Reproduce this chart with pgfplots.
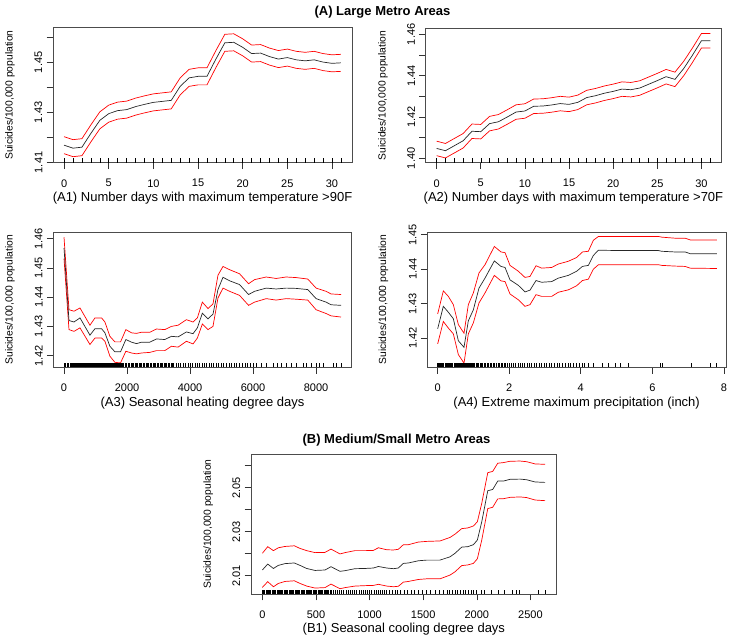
\documentclass[border=0pt]{standalone}
\usepackage{fontspec}
\setmainfont{Liberation Sans}
\usepackage{pgfplots}
\usepackage{pgfplotstable}
\pgfplotsset{compat=1.18}
\pgfdeclareplotmark{rug}{\pgfpathmoveto{\pgfpointorigin}\pgfpathlineto{\pgfpoint{0pt}{4.3pt}}\pgfusepathqstroke}

\pgfplotstableread{
x m lo hi
0 1.4169 1.4135 1.4203
1 1.4157 1.4123 1.4191
2 1.4161 1.4127 1.4195
3 1.4216 1.4182 1.4250
4 1.4268 1.4234 1.4302
5 1.4295 1.4261 1.4329
6 1.4307 1.4273 1.4341
7 1.4311 1.4277 1.4345
8 1.4323 1.4289 1.4357
9 1.4332 1.4298 1.4366
10 1.4340 1.4306 1.4374
11 1.4344 1.4310 1.4378
12 1.4348 1.4314 1.4382
13 1.4404 1.4370 1.4438
14 1.4438 1.4404 1.4472
15 1.4444 1.4410 1.4478
16 1.4444 1.4410 1.4478
17 1.4513 1.4479 1.4547
18 1.4578 1.4544 1.4612
19 1.4580 1.4546 1.4614
20 1.4560 1.4526 1.4594
21 1.4535 1.4501 1.4569
22 1.4537 1.4503 1.4571
23 1.4523 1.4489 1.4557
24 1.4513 1.4479 1.4547
25 1.4519 1.4485 1.4553
26 1.4510 1.4476 1.4544
27 1.4506 1.4472 1.4540
28 1.4510 1.4476 1.4544
29 1.4501 1.4467 1.4535
30 1.4496 1.4462 1.4530
31 1.4498 1.4464 1.4532
}\Aone

\pgfplotstableread{
x m lo hi
0 1.4048 1.4013 1.4083
1 1.4037 1.4002 1.4072
2 1.4061 1.4026 1.4096
3 1.4085 1.4050 1.4120
4 1.4131 1.4096 1.4166
5 1.4129 1.4094 1.4164
6 1.4168 1.4133 1.4203
7 1.4177 1.4142 1.4212
8 1.4200 1.4165 1.4235
9 1.4224 1.4189 1.4259
10 1.4229 1.4194 1.4264
11 1.4252 1.4217 1.4287
12 1.4253 1.4218 1.4288
13 1.4258 1.4223 1.4293
14 1.4265 1.4230 1.4300
15 1.4261 1.4226 1.4296
16 1.4271 1.4236 1.4306
17 1.4294 1.4259 1.4329
18 1.4303 1.4268 1.4338
19 1.4315 1.4280 1.4350
20 1.4324 1.4289 1.4359
21 1.4335 1.4300 1.4370
22 1.4332 1.4297 1.4367
23 1.4340 1.4305 1.4375
24 1.4358 1.4323 1.4393
25 1.4376 1.4341 1.4411
26 1.4395 1.4360 1.4430
27 1.4382 1.4347 1.4417
28 1.4435 1.4400 1.4470
29 1.4500 1.4465 1.4535
30 1.4569 1.4534 1.4604
31 1.4569 1.4534 1.4604
}\Atwo

\pgfplotstableread{
x m lo hi
0 1.4568 1.4532 1.4605
158 1.4320 1.4289 1.4357
317 1.4315 1.4283 1.4352
507 1.4329 1.4295 1.4363
823 1.4270 1.4238 1.4304
982 1.4292 1.4260 1.4329
1193 1.4292 1.4260 1.4329
1298 1.4278 1.4249 1.4315
1456 1.4232 1.4198 1.4266
1615 1.4213 1.4177 1.4247
1794 1.4213 1.4175 1.4247
1963 1.4255 1.4215 1.4289
2142 1.4246 1.4209 1.4278
2301 1.4241 1.4206 1.4276
2459 1.4246 1.4209 1.4280
2723 1.4246 1.4211 1.4280
2934 1.4257 1.4217 1.4291
3198 1.4255 1.4217 1.4289
3409 1.4266 1.4232 1.4300
3620 1.4264 1.4229 1.4304
3884 1.4281 1.4249 1.4323
4095 1.4275 1.4240 1.4315
4232 1.4295 1.4260 1.4329
4390 1.4345 1.4308 1.4383
4570 1.4326 1.4289 1.4361
4728 1.4342 1.4300 1.4377
4886 1.4426 1.4397 1.4475
5045 1.4468 1.4431 1.4505
5256 1.4456 1.4420 1.4494
5572 1.4443 1.4406 1.4480
5857 1.4409 1.4372 1.4446
6047 1.4420 1.4383 1.4460
6417 1.4431 1.4395 1.4469
6733 1.4428 1.4390 1.4464
7050 1.4431 1.4395 1.4469
7367 1.4430 1.4393 1.4467
7736 1.4426 1.4390 1.4462
8000 1.4395 1.4357 1.4431
8317 1.4383 1.4344 1.4420
8475 1.4374 1.4336 1.4411
8791 1.4372 1.4332 1.4409
}\Athree

\pgfplotstableread{
x m lo hi
0 1.4227 1.4183 1.4270
0.158 1.4292 1.4248 1.4337
0.298 1.4275 1.4229 1.4321
0.438 1.4256 1.4212 1.4297
0.578 1.4192 1.4152 1.4239
0.736 1.4173 1.4127 1.4214
0.857 1.4250 1.4212 1.4297
0.997 1.4282 1.4244 1.4331
1.155 1.4345 1.4302 1.4389
1.323 1.4374 1.4331 1.4413
1.584 1.4424 1.4382 1.4466
1.770 1.4408 1.4366 1.4450
1.882 1.4405 1.4364 1.4448
2.022 1.4369 1.4328 1.4411
2.255 1.4353 1.4311 1.4394
2.441 1.4334 1.4292 1.4376
2.581 1.4339 1.4297 1.4379
2.749 1.4367 1.4326 1.4410
2.907 1.4362 1.4321 1.4403
3.187 1.4364 1.4321 1.4405
3.373 1.4374 1.4333 1.4415
3.653 1.4382 1.4340 1.4423
3.886 1.4394 1.4352 1.4434
4.045 1.4408 1.4367 1.4450
4.212 1.4411 1.4371 1.4452
4.352 1.4440 1.4400 1.4484
4.494 1.4455 1.4413 1.4495
5.240 1.4454 1.4413 1.4495
6.172 1.4454 1.4413 1.4495
6.265 1.4452 1.4411 1.4493
6.638 1.4450 1.4409 1.4490
6.918 1.4450 1.4408 1.4490
7.058 1.4445 1.4403 1.4485
7.804 1.4445 1.4402 1.4485
}\Afour

\pgfplotstableread{
x m lo hi
0 2.0126 2.0047 2.0202
50 2.0153 2.0073 2.0232
103 2.0133 2.0050 2.0214
149 2.0147 2.0065 2.0227
211 2.0155 2.0074 2.0233
298 2.0158 2.0077 2.0236
351 2.0147 2.0065 2.0224
413 2.0133 2.0053 2.0214
491 2.0124 2.0044 2.0205
584 2.0126 2.0046 2.0206
640 2.0141 2.0062 2.0221
724 2.0120 2.0041 2.0199
771 2.0123 2.0046 2.0205
864 2.0132 2.0053 2.0214
958 2.0133 2.0055 2.0214
1035 2.0135 2.0056 2.0215
1082 2.0142 2.0061 2.0227
1160 2.0135 2.0053 2.0218
1222 2.0132 2.0050 2.0217
1268 2.0135 2.0052 2.0220
1315 2.0156 2.0071 2.0241
1362 2.0158 2.0074 2.0241
1455 2.0168 2.0083 2.0253
1533 2.0171 2.0086 2.0256
1657 2.0171 2.0086 2.0258
1750 2.0186 2.0103 2.0274
1797 2.0202 2.0118 2.0289
1859 2.0230 2.0146 2.0314
1915 2.0232 2.0149 2.0317
1968 2.0241 2.0156 2.0326
2005 2.0262 2.0177 2.0345
2046 2.0345 2.0262 2.0429
2102 2.0486 2.0405 2.0568
2148 2.0492 2.0411 2.0574
2195 2.0530 2.0449 2.0611
2248 2.0530 2.0450 2.0614
2310 2.0538 2.0456 2.0620
2403 2.0539 2.0458 2.0621
2465 2.0536 2.0455 2.0618
2543 2.0526 2.0444 2.0608
2636 2.0524 2.0441 2.0606
}\Bone

\pgfplotsset{
  rplot/.style={
    scale only axis, anchor=south west, clip=true,
    axis line style={black!70, line width=0.6pt},
    tick style={black!80, line width=0.6pt},
    tick align=outside, tick pos=left,
    major tick length=6.5pt, minor tick num=0,
    /pgf/number format/assume math mode=true,
    ticklabel style={font=\fontsize{11}{13}\selectfont, inner sep=1pt},
    xticklabel shift=9pt,
    yticklabel style={rotate=90, anchor=south},
    yticklabel shift=3pt,
    xlabel style={font=\fontsize{13}{15}\selectfont, at={(axis description cs:0.5,0)}, anchor=center, yshift=-35.5pt},
    ylabel style={font=\fontsize{10.3}{12}\selectfont, anchor=center, rotate=0},
  },
  midline/.style={black!85, line width=0.7pt},
  bandline/.style={red, line width=0.7pt},
  rugs/.style={only marks, mark=rug, mark options={black, line width=0.55pt}},
}

\begin{document}
\begin{tikzpicture}
\path[use as bounding box] (0pt,0pt) rectangle (733pt,642pt);
\node[font=\bfseries\fontsize{13}{15}\selectfont] at (382.5pt,630pt) {(A) Large Metro Areas};
\node[font=\bfseries\fontsize{13}{15}\selectfont] at (396.5pt,202pt) {(B) Medium/Small Metro Areas};

% A1
\begin{axis}[rplot, at={(53pt,479.3pt)}, width=299pt, height=135.4pt,
  xmin=-1.24, xmax=32.24, ymin=1.4099, ymax=1.4640,
  xtick={0,5,10,15,20,25,30}, xticklabels={0,5,10,15,20,25,30},
  ytick={1.41,1.42,1.43,1.44,1.45,1.46}, yticklabels={1.41,,1.43,,1.45,},
  xlabel={(A1) Number days with maximum temperature >90F},
  ylabel={Suicides/100,000 population},
  ylabel style={at={(axis description cs:-0.144,0.5)}}]
\addplot[bandline] table[x=x,y=hi]{\Aone};
\addplot[bandline] table[x=x,y=lo]{\Aone};
\addplot[midline] table[x=x,y=m]{\Aone};
\addplot[rugs] coordinates {(0,1.4099)(1,1.4099)(2,1.4099)(3,1.4099)(4,1.4099)(5,1.4099)(6,1.4099)(7,1.4099)(8,1.4099)(9,1.4099)(10,1.4099)(11,1.4099)(12,1.4099)(13,1.4099)(14,1.4099)(15,1.4099)(16,1.4099)(17,1.4099)(18,1.4099)(19,1.4099)(20,1.4099)(21,1.4099)(22,1.4099)(23,1.4099)(24,1.4099)(25,1.4099)(26,1.4099)(27,1.4099)(28,1.4099)(29,1.4099)(30,1.4099)(31,1.4099)};
\end{axis}

% A2
\begin{axis}[rplot, at={(425.7pt,479.3pt)}, width=295.5pt, height=134.4pt,
  xmin=-1.24, xmax=32.24, ymin=1.3979, ymax=1.4629,
  xtick={0,5,10,15,20,25,30}, xticklabels={0,5,10,15,20,25,30},
  ytick={1.40,1.41,1.42,1.43,1.44,1.45,1.46}, yticklabels={1.40,,1.42,,1.44,,1.46},
  xlabel={(A2) Number days with maximum temperature >70F},
  ylabel={Suicides/100,000 population},
  ylabel style={at={(axis description cs:-0.1445,0.5)}}]
\addplot[bandline] table[x=x,y=hi]{\Atwo};
\addplot[bandline] table[x=x,y=lo]{\Atwo};
\addplot[midline] table[x=x,y=m]{\Atwo};
\addplot[rugs] coordinates {(0,1.3979)(1,1.3979)(2,1.3979)(3,1.3979)(4,1.3979)(5,1.3979)(6,1.3979)(7,1.3979)(8,1.3979)(9,1.3979)(10,1.3979)(11,1.3979)(12,1.3979)(13,1.3979)(14,1.3979)(15,1.3979)(16,1.3979)(17,1.3979)(18,1.3979)(19,1.3979)(20,1.3979)(21,1.3979)(22,1.3979)(23,1.3979)(24,1.3979)(25,1.3979)(26,1.3979)(27,1.3979)(28,1.3979)(29,1.3979)(30,1.3979)(31,1.3979)};
\end{axis}

% A3
\begin{axis}[rplot, at={(53.3pt,274.7pt)}, width=298.4pt, height=135.3pt,
  xmin=-340, xmax=9130, ymin=1.4160, ymax=1.4623,
  xtick={0,2000,4000,6000,8000}, xticklabels={0,2000,4000,6000,8000},
  ytick={1.42,1.43,1.44,1.45,1.46}, yticklabels={1.42,1.43,1.44,1.45,1.46},
  xlabel={(A3) Seasonal heating degree days},
  ylabel={Suicides/100,000 population},
  ylabel style={at={(axis description cs:-0.145,0.5)}}]
\addplot[bandline] table[x=x,y=hi]{\Athree};
\addplot[bandline] table[x=x,y=lo]{\Athree};
\addplot[midline] table[x=x,y=m]{\Athree};
\addplot[rugs] coordinates {(0,1.416)(30,1.416)(55,1.416)(90,1.416)(120,1.416)(150,1.416)(185,1.416)(210,1.416)(240,1.416)(275,1.416)(300,1.416)(330,1.416)(365,1.416)(390,1.416)(420,1.416)(455,1.416)(480,1.416)(510,1.416)(545,1.416)(570,1.416)(600,1.416)(635,1.416)(660,1.416)(690,1.416)(720,1.416)(750,1.416)(780,1.416)(810,1.416)(840,1.416)(870,1.416)(900,1.416)(935,1.416)(960,1.416)(990,1.416)(1020,1.416)(1050,1.416)(1080,1.416)(1110,1.416)(1140,1.416)(1175,1.416)(1200,1.416)(1230,1.416)(1260,1.416)(1290,1.416)(1320,1.416)(1350,1.416)(1385,1.416)(1410,1.416)(1440,1.416)(1470,1.416)(1500,1.416)(1530,1.416)(1565,1.416)(1590,1.416)(1620,1.416)(1650,1.416)(1680,1.416)(1715,1.416)(1740,1.416)(1770,1.416)(1800,1.416)(1830,1.416)(1860,1.416)(1890,1.416)(1940,1.416)(1985,1.416)(2030,1.416)(2070,1.416)(2120,1.416)(2160,1.416)(2200,1.416)(2250,1.416)(2290,1.416)(2330,1.416)(2380,1.416)(2420,1.416)(2460,1.416)(2510,1.416)(2550,1.416)(2600,1.416)(2640,1.416)(2680,1.416)(2730,1.416)(2770,1.416)(2820,1.416)(2860,1.416)(2900,1.416)(2950,1.416)(2990,1.416)(3040,1.416)(3080,1.416)(3120,1.416)(3170,1.416)(3210,1.416)(3260,1.416)(3300,1.416)(3350,1.416)(3390,1.416)(3440,1.416)(3480,1.416)(3560,1.416)(3640,1.416)(3700,1.416)(3790,1.416)(3850,1.416)(3930,1.416)(4010,1.416)(4080,1.416)(4150,1.416)(4230,1.416)(4300,1.416)(4380,1.416)(4440,1.416)(4520,1.416)(4600,1.416)(4670,1.416)(4750,1.416)(4830,1.416)(4900,1.416)(4990,1.416)(5060,1.416)(5150,1.416)(5230,1.416)(5310,1.416)(5400,1.416)(5480,1.416)(5570,1.416)(5660,1.416)(5740,1.416)(5830,1.416)(5920,1.416)(6010,1.416)(6115,1.416)(6274,1.416)(6433,1.416)(6644,1.416)(6771,1.416)(6909,1.416)(7067,1.416)(7226,1.416)(7385,1.416)(7596,1.416)(7702,1.416)(7861,1.416)(7999,1.416)(8104,1.416)(8231,1.416)(8549,1.416)(8654,1.416)(8813,1.416)};
\end{axis}

% A4
\begin{axis}[rplot, at={(427.3pt,274.7pt)}, width=298.7pt, height=135.3pt,
  xmin=-0.29, xmax=8.06, ymin=1.4115, ymax=1.4508,
  xtick={0,2,4,6,8}, xticklabels={0,2,4,6,8},
  ytick={1.42,1.43,1.44,1.45}, yticklabels={1.42,1.43,1.44,1.45},
  xlabel={(A4) Extreme maximum precipitation (inch)},
  ylabel={Suicides/100,000 population},
  ylabel style={at={(axis description cs:-0.147,0.5)}}]
\addplot[bandline] table[x=x,y=hi]{\Afour};
\addplot[bandline] table[x=x,y=lo]{\Afour};
\addplot[midline] table[x=x,y=m]{\Afour};
\addplot[rugs] coordinates {(0,1.4115)(0.02,1.4115)(0.05,1.4115)(0.07,1.4115)(0.1,1.4115)(0.12,1.4115)(0.15,1.4115)(0.17,1.4115)(0.2,1.4115)(0.22,1.4115)(0.25,1.4115)(0.27,1.4115)(0.3,1.4115)(0.32,1.4115)(0.35,1.4115)(0.37,1.4115)(0.4,1.4115)(0.42,1.4115)(0.45,1.4115)(0.47,1.4115)(0.5,1.4115)(0.52,1.4115)(0.55,1.4115)(0.57,1.4115)(0.6,1.4115)(0.62,1.4115)(0.65,1.4115)(0.67,1.4115)(0.7,1.4115)(0.72,1.4115)(0.75,1.4115)(0.77,1.4115)(0.8,1.4115)(0.82,1.4115)(0.85,1.4115)(0.87,1.4115)(0.9,1.4115)(0.93,1.4115)(0.96,1.4115)(0.99,1.4115)(1.03,1.4115)(1.07,1.4115)(1.11,1.4115)(1.14,1.4115)(1.18,1.4115)(1.22,1.4115)(1.26,1.4115)(1.30,1.4115)(1.34,1.4115)(1.38,1.4115)(1.42,1.4115)(1.46,1.4115)(1.50,1.4115)(1.55,1.4115)(1.59,1.4115)(1.63,1.4115)(1.68,1.4115)(1.72,1.4115)(1.77,1.4115)(1.81,1.4115)(1.86,1.4115)(1.90,1.4115)(1.95,1.4115)(2.0,1.4115)(2.06,1.4115)(2.12,1.4115)(2.18,1.4115)(2.24,1.4115)(2.30,1.4115)(2.37,1.4115)(2.43,1.4115)(2.50,1.4115)(2.56,1.4115)(2.63,1.4115)(2.70,1.4115)(2.76,1.4115)(2.83,1.4115)(2.90,1.4115)(2.97,1.4115)(3.04,1.4115)(3.11,1.4115)(3.18,1.4115)(3.26,1.4115)(3.34,1.4115)(3.41,1.4115)(3.49,1.4115)(3.57,1.4115)(3.64,1.4115)(3.72,1.4115)(3.80,1.4115)(3.87,1.4115)(3.95,1.4115)(4.03,1.4115)(4.10,1.4115)(4.21,1.4115)(4.35,1.4115)(4.59,1.4115)(4.77,1.4115)(4.96,1.4115)(5.10,1.4115)(5.33,1.4115)(6.22,1.4115)(6.27,1.4115)(7.10,1.4115)(7.62,1.4115)(7.80,1.4115)};
\end{axis}

% B1
\begin{axis}[rplot, at={(251pt,48pt)}, width=305.7pt, height=140pt,
  xmin=-106, xmax=2745, ymin=2.0017, ymax=2.0653,
  xtick={0,500,1000,1500,2000,2500}, xticklabels={0,500,1000,1500,2000,2500},
  ytick={2.01,2.02,2.03,2.04,2.05,2.06}, yticklabels={2.01,,2.03,,2.05,},
  xlabel={(B1) Seasonal cooling degree days},
  ylabel={Suicides/100,000 population},
  ylabel style={at={(axis description cs:-0.14,0.5)}}]
\addplot[bandline] table[x=x,y=hi]{\Bone};
\addplot[bandline] table[x=x,y=lo]{\Bone};
\addplot[midline] table[x=x,y=m]{\Bone};
\addplot[rugs] coordinates {(0,2.0017)(10,2.0017)(22,2.0017)(33,2.0017)(45,2.0017)(55,2.0017)(68,2.0017)(78,2.0017)(90,2.0017)(100,2.0017)(112,2.0017)(123,2.0017)(135,2.0017)(145,2.0017)(157,2.0017)(168,2.0017)(180,2.0017)(190,2.0017)(202,2.0017)(213,2.0017)(225,2.0017)(235,2.0017)(247,2.0017)(258,2.0017)(270,2.0017)(280,2.0017)(292,2.0017)(303,2.0017)(315,2.0017)(325,2.0017)(337,2.0017)(348,2.0017)(360,2.0017)(370,2.0017)(382,2.0017)(393,2.0017)(405,2.0017)(415,2.0017)(427,2.0017)(438,2.0017)(450,2.0017)(460,2.0017)(472,2.0017)(483,2.0017)(495,2.0017)(505,2.0017)(517,2.0017)(528,2.0017)(540,2.0017)(550,2.0017)(562,2.0017)(573,2.0017)(585,2.0017)(595,2.0017)(607,2.0017)(618,2.0017)(630,2.0017)(640,2.0017)(660,2.0017)(680,2.0017)(700,2.0017)(718,2.0017)(740,2.0017)(758,2.0017)(780,2.0017)(800,2.0017)(818,2.0017)(840,2.0017)(860,2.0017)(880,2.0017)(900,2.0017)(920,2.0017)(940,2.0017)(960,2.0017)(980,2.0017)(1000,2.0017)(1020,2.0017)(1040,2.0017)(1060,2.0017)(1080,2.0017)(1100,2.0017)(1120,2.0017)(1140,2.0017)(1160,2.0017)(1185,2.0017)(1210,2.0017)(1235,2.0017)(1260,2.0017)(1285,2.0017)(1320,2.0017)(1350,2.0017)(1385,2.0017)(1420,2.0017)(1455,2.0017)(1490,2.0017)(1530,2.0017)(1570,2.0017)(1610,2.0017)(1650,2.0017)(1690,2.0017)(1720,2.0017)(1745,2.0017)(1770,2.0017)(1795,2.0017)(1820,2.0017)(1845,2.0017)(1870,2.0017)(1895,2.0017)(1920,2.0017)(1945,2.0017)(1970,2.0017)(1995,2.0017)(2040,2.0017)(2071,2.0017)(2139,2.0017)(2201,2.0017)(2257,2.0017)(2326,2.0017)(2372,2.0017)(2394,2.0017)(2574,2.0017)(2636,2.0017)};
\end{axis}
\end{tikzpicture}
\end{document}
